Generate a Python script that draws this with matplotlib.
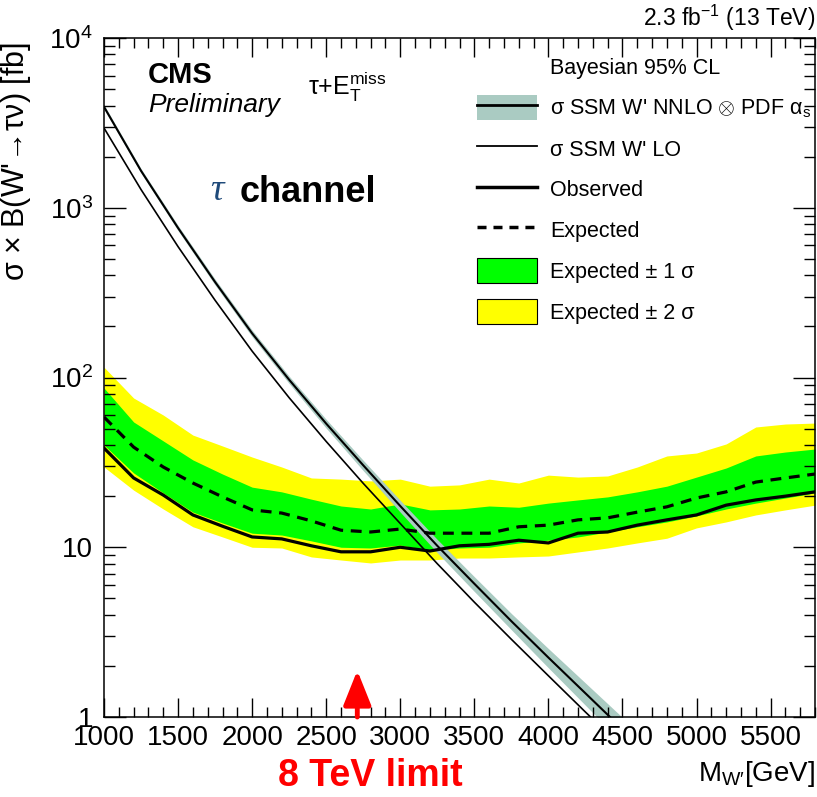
import matplotlib
matplotlib.use("Agg")
import matplotlib.pyplot as plt
from matplotlib.lines import Line2D
from matplotlib.patches import Patch
from matplotlib.ticker import FixedLocator, MultipleLocator, LogLocator, NullFormatter
from matplotlib.font_manager import FontProperties

# --- fonts ---
plt.rcParams['font.family'] = ['Liberation Sans', 'DejaVu Sans']
plt.rcParams['mathtext.fontset'] = 'custom'
plt.rcParams['mathtext.rm'] = 'Liberation Sans'
plt.rcParams['mathtext.it'] = 'Liberation Sans:italic'
plt.rcParams['mathtext.bf'] = 'Liberation Sans:bold'

# --- limit data (sigma x B in fb vs W' mass in GeV) ---
mass = [1000, 1200, 1400, 1600, 1800, 2000, 2200, 2400, 2600, 2800, 3000, 3200,
        3400, 3600, 3800, 4000, 4200, 4400, 4600, 4800, 5000, 5200, 5400, 5600, 5800]
observed = [38.4, 25.6, 20.3, 15.5, 13.3, 11.5, 11.2, 10.2, 9.4, 9.4, 10.0, 9.5,
            10.2, 10.4, 11.0, 10.6, 12.1, 12.3, 13.5, 14.5, 15.5, 17.7, 19.0, 20.0, 21.2]
expected = [58.5, 38.9, 29.7, 23.9, 19.8, 16.6, 15.9, 14.3, 12.6, 12.3, 12.8, 12.1,
            12.1, 12.1, 13.2, 13.5, 14.5, 14.9, 16.1, 17.3, 19.5, 21.2, 24.2, 25.6, 27.0]
exp_1s_lo = [40.0, 27.4, 20.9, 16.1, 13.9, 12.1, 11.8, 10.9, 10.0, 9.9, 10.3, 9.6,
             9.9, 10.0, 10.6, 11.0, 11.5, 12.3, 13.2, 14.1, 15.3, 16.8, 18.2, 19.5, 20.9]
exp_1s_hi = [86.7, 54.7, 42.3, 32.7, 27.0, 22.6, 21.2, 19.2, 17.5, 16.8, 18.0, 16.6,
             16.8, 17.5, 17.2, 18.2, 19.0, 19.8, 21.2, 22.9, 25.9, 29.3, 34.5, 36.4, 37.9]
exp_2s_lo = [29.7, 21.7, 16.8, 13.2, 11.5, 10.0, 9.9, 8.77, 8.41, 8.08, 8.41, 8.41,
             8.64, 8.64, 8.77, 8.88, 9.38, 9.9, 10.6, 11.3, 13.0, 14.1, 15.5, 16.6, 17.7]
exp_2s_hi = [115, 75.7, 60.1, 45.8, 39.5, 34.0, 29.7, 25.6, 25.2, 24.6, 25.2, 22.9,
             23.3, 25.2, 23.9, 26.6, 25.9, 26.3, 29.7, 34.5, 35.9, 40.6, 51.1, 53.2, 53.9]

# --- theory cross sections ---
theory_mass = [1000, 1250, 1500, 1750, 2000, 2250, 2500, 2750, 3000, 3250, 3500,
               3750, 4000, 4250, 4500]
xsec_nnlo = [3930, 1650, 760, 365, 182, 97, 53.5, 30.4, 17.5, 10.2, 6.1, 3.67, 2.24, 1.38, 0.85]
xsec_lo = [2950, 1280, 590, 285, 143, 76, 42.0, 23.8, 13.8, 8.0, 4.75, 2.87, 1.75, 1.07, 0.66]
nnlo_rel_unc = [0.03, 0.03, 0.035, 0.04, 0.045, 0.05, 0.06, 0.07, 0.08, 0.09, 0.10,
                0.11, 0.13, 0.15, 0.17]

limit_8tev = 2710

band_col = '#aacbc2'
green = '#00ff00'
yellow = '#ffff00'

fig = plt.figure(figsize=(8.17, 7.97), dpi=100)
ax = fig.add_axes([104 / 817, 1 - 717 / 797, 711 / 817, 679 / 797])

# expected bands
ax.fill_between(mass, exp_2s_lo, exp_2s_hi, color=yellow, lw=0)
ax.fill_between(mass, exp_1s_lo, exp_1s_hi, color=green, lw=0)
ax.plot(mass, expected, color='k', lw=2.3, ls=(0, (3.4, 2.4)))
ax.plot(mass, observed, color='k', lw=2.3)

# theory
nnlo_lo = [x * (1 - u) for x, u in zip(xsec_nnlo, nnlo_rel_unc)]
nnlo_hi = [x * (1 + u) for x, u in zip(xsec_nnlo, nnlo_rel_unc)]
ax.fill_between(theory_mass, nnlo_lo, nnlo_hi, color=band_col, lw=0)
ax.plot(theory_mass, xsec_nnlo, color='k', lw=1.5)
ax.plot(theory_mass, xsec_lo, color='k', lw=1.2)

ax.set_yscale('log')
ax.set_xlim(1000, 5800)
ax.set_ylim(1, 1e4)

# --- axes style (ROOT-like) ---
tick_font = FontProperties(family=['Liberation Sans Narrow', 'Liberation Sans'], size=20)
ax.set_xticks([1000, 1500, 2000, 2500, 3000, 3500, 4000, 4500, 5000, 5500])
ax.set_xticklabels(['1000', '1500', '2000', '2500', '3000', '3500', '4000', '4500', '5000', '5500'])
ax.xaxis.set_minor_locator(MultipleLocator(100))
ax.yaxis.set_major_locator(FixedLocator([1, 10, 100, 1000, 10000]))
ax.set_yticklabels(['1', '10', r'$10^{2}$', r'$10^{3}$', r'$10^{4}$'])
ax.yaxis.set_minor_locator(LogLocator(base=10, subs=range(2, 10)))
ax.yaxis.set_minor_formatter(NullFormatter())
for lab in ax.get_xticklabels() + ax.get_yticklabels():
    lab.set_fontproperties(tick_font)
ax.tick_params(which='both', direction='in', top=True, right=True, width=1.0)
ax.tick_params(axis='x', which='major', length=14, pad=6)
ax.tick_params(axis='x', which='minor', length=7)
ax.tick_params(axis='y', which='major', length=16, pad=8)
ax.tick_params(axis='y', which='minor', length=8)
for s in ax.spines.values():
    s.set_linewidth(1.1)

ax.set_ylabel(u"σ × B(W'" + r"$\!\rightarrow\!$" + u"τν) [fb]", fontsize=22, loc='top')
ax.yaxis.set_label_coords(-0.100, 0.994)
ax.set_xlabel(r"M$_{\mathrm{W}\prime}$[GeV]", fontsize=20, loc='right')
ax.xaxis.set_label_coords(1.0, -0.062)

# --- text ---
fig.text(815 / 817, 1 - 26 / 797, r"2.3 fb$^{-1}$ (13 TeV)", fontsize=16.5,
         ha='right', va='baseline')
ax.text(0.062, 0.934, "CMS", fontsize=21, fontweight='bold', transform=ax.transAxes)
ax.text(0.062, 0.891, "Preliminary", fontsize=19, style='italic', transform=ax.transAxes)
ax.text(0.287, 0.916, u"τ+E$_{\\mathrm{T}}^{\\mathrm{miss}}$", fontsize=18,
        transform=ax.transAxes)
ax.text(0.150, 0.761, u"τ", fontsize=27, family='Liberation Serif', style='italic',
        color='#1f4a7a', transform=ax.transAxes)
ax.text(0.191, 0.759, "channel", fontsize=26, fontweight='bold', transform=ax.transAxes)
fig.text(370 / 817, 1 - 786 / 797, "8 TeV limit", fontsize=27, fontweight='bold',
         color='red', ha='center', va='baseline')

# 8 TeV limit arrow
ax.annotate('', xy=(limit_8tev, 1.88), xytext=(limit_8tev, 1.0),
            arrowprops=dict(arrowstyle='-|>,head_length=1.05,head_width=0.42',
                            color='red', lw=3.5, mutation_scale=20,
                            shrinkA=0, shrinkB=0), annotation_clip=False)

# --- legend ---
handles = [
    Patch(facecolor='none', edgecolor='none'),
    (Patch(facecolor=band_col, edgecolor='none'), Line2D([], [], color='k', lw=2)),
    Line2D([], [], color='k', lw=1.3),
    Line2D([], [], color='k', lw=2.5),
    Line2D([], [], color='k', lw=2.5, ls=(0, (2.6, 2.0))),
    Patch(facecolor=green, edgecolor='k', lw=0.8),
    Patch(facecolor=yellow, edgecolor='k', lw=0.8),
]
labels = [
    "Bayesian 95% CL",
    u"σ SSM W' NNLO $\\otimes$ PDF α$_{\\mathrm{s}}$",
    u"σ SSM W' LO",
    "Observed",
    "Expected",
    u"Expected ± 1 σ",
    u"Expected ± 2 σ",
]
leg = ax.legend(handles, labels, loc='upper left',
                bbox_to_anchor=((477 - 104) / 711, (717 - 54) / 679),
                frameon=False, borderpad=0, borderaxespad=0,
                handlelength=2.8, handleheight=1.4, labelspacing=0.74,
                handletextpad=0.6,
                prop=FontProperties(family=['Liberation Sans', 'DejaVu Sans'], size=15.5))

fig.savefig("out.png", dpi=100)
